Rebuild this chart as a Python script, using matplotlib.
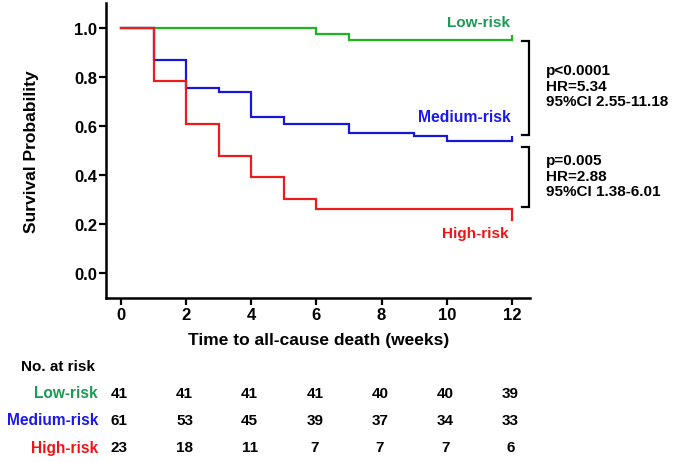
import matplotlib
matplotlib.use("Agg")
import matplotlib.pyplot as plt
from matplotlib.transforms import blended_transform_factory

plt.rcParams["font.family"] = ["Liberation Sans", "DejaVu Sans"]
plt.rcParams["font.weight"] = "bold"

# Kaplan-Meier steps (weeks, survival)
t_low = [0, 6, 7, 12]
s_low = [1.0, 0.976, 0.951, 0.951]
t_med = [0, 1, 2, 3, 4, 5, 7, 9, 10, 12]
s_med = [1.0, 0.869, 0.755, 0.739, 0.638, 0.607, 0.573, 0.558, 0.540, 0.540]
t_high = [0, 1, 2, 3, 4, 5, 6, 12]
s_high = [1.0, 0.783, 0.609, 0.478, 0.391, 0.304, 0.261, 0.217]

groups = ["Low-risk", "Medium-risk", "High-risk"]
line_colors = ["#1fb51f", "#1616dc", "#ea1c1c"]
text_colors = ["#1a9a55", "#1a1aee", "#f01414"]

risk_times = [0, 2, 4, 6, 8, 10, 12]
at_risk = {
    "Low-risk":    [41, 41, 41, 41, 40, 40, 39],
    "Medium-risk": [61, 53, 45, 39, 37, 34, 33],
    "High-risk":   [23, 18, 11, 7, 7, 7, 6],
}

stats_top = "p<0.0001\nHR=5.34\n95%CI 2.55-11.18"
stats_bot = "p=0.005\nHR=2.88\n95%CI 1.38-6.01"

fig = plt.figure(figsize=(6.75, 4.64), dpi=100)
ax = fig.add_axes([0.157, 0.356, 0.628, 0.635])

curves = [(t_low, s_low), (t_med, s_med), (t_high, s_high)]
for (t, s), c in zip(curves, line_colors):
    ax.step(t, s, where="post", color=c, lw=1.6, solid_joinstyle="miter")
# censor ticks at end of follow-up
ax.vlines(12, s_low[-1], s_low[-1] + 0.02, color=line_colors[0], lw=1.6)
ax.vlines(12, s_med[-1], s_med[-1] + 0.02, color=line_colors[1], lw=1.6)

ax.set_xlim(-0.46, 12.55)
ax.set_ylim(-0.1, 1.1)
ax.set_xticks(risk_times)
ax.set_yticks([0.0, 0.2, 0.4, 0.6, 0.8, 1.0])
ax.set_yticklabels([f"{v:.1f}" for v in [0.0, 0.2, 0.4, 0.6, 0.8, 1.0]])
ax.tick_params(labelsize=12, width=1.6, length=5, pad=1.5)
for sp in ["top", "right"]:
    ax.spines[sp].set_visible(False)
for sp in ["left", "bottom"]:
    ax.spines[sp].set_linewidth(1.8)

# curve labels
ax.text(11.95, 1.024, "Low-risk", color=text_colors[0], fontsize=11, ha="right", va="center")
ax.text(11.97, 0.637, "Medium-risk", color=text_colors[1], fontsize=11.3, ha="right", va="center")
ax.text(11.9, 0.164, "High-risk", color=text_colors[2], fontsize=11, ha="right", va="center")

# comparison brackets
def bracket(y0, y1):
    ax.plot([12.3, 12.52, 12.52, 12.3], [y0, y0, y1, y1], color="black", lw=1.6,
            clip_on=False, solid_joinstyle="miter")

bracket(0.947, 0.564)
bracket(0.515, 0.270)
ax.text(13.05, 0.764, stats_top, fontsize=11, ha="left", va="center", linespacing=1.15)
ax.text(13.05, 0.397, stats_bot, fontsize=11, ha="left", va="center", linespacing=1.15)

fig.text(0.047, 0.674, "Survival Probability", rotation=90, fontsize=12.5,
         ha="center", va="center")
fig.text(0.472, 0.267, "Time to all-cause death (weeks)", fontsize=12.5,
         ha="center", va="center")

# number at risk table
tr = blended_transform_factory(ax.transData, fig.transFigure)
fig.text(0.031, 0.209, "No. at risk", fontsize=11, ha="left", va="center")
row_y = [0.151, 0.093, 0.034]
for g, c, y in zip(groups, text_colors, row_y):
    fig.text(0.145, y, g, color=c, fontsize=11.2, ha="right", va="center")
    for t, n in zip(risk_times, at_risk[g]):
        ax.text(t - 0.05, y, str(n), transform=tr, fontsize=11, ha="center", va="center",
                clip_on=False)

fig.savefig("out.png", dpi=100)
